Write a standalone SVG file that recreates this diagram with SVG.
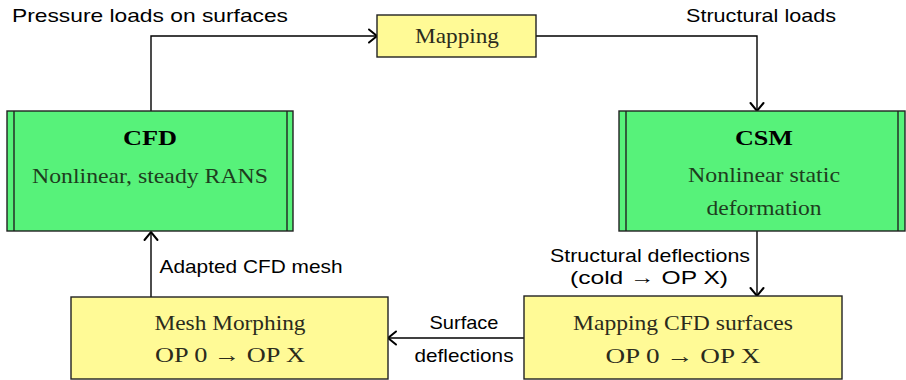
<svg xmlns="http://www.w3.org/2000/svg" width="906" height="380" viewBox="0 0 906 380">
  <defs>
    <marker id="arr" viewBox="-10 -8 12 16" markerWidth="12" markerHeight="16" refX="0" refY="0" orient="auto" markerUnits="userSpaceOnUse">
      <path d="M-8,-6.5 L0,0 L-8,6.5" fill="none" stroke="#000" stroke-width="2" stroke-linecap="round" stroke-linejoin="miter"/>
    </marker>
  </defs>
  <style>
    .green { fill: #57f27a; stroke: #222; stroke-width: 1.4; }
    .yellow { fill: #fffa96; stroke: #222; stroke-width: 1.4; }
    .edge { fill: none; stroke: #000; stroke-width: 1.4; }
    .title { font-family: "Liberation Serif", "DejaVu Serif", serif; font-weight: bold; font-size: 22px; fill: #000; text-anchor: middle; }
    .gtext { font-family: "Liberation Serif", "DejaVu Serif", serif; font-size: 22px; fill: #1e3d1e; text-anchor: middle; }
    .ytext { font-family: "Liberation Serif", "DejaVu Serif", serif; font-size: 22px; fill: #2b2b1c; text-anchor: middle; }
    .label { font-family: "Liberation Sans", "DejaVu Sans", sans-serif; font-size: 19px; fill: #000; text-anchor: middle; }
  </style>

  <g id="connectors">
    <path class="edge" d="M151,111 V36 H377" marker-end="url(#arr)"/>
    <path class="edge" d="M536,36 H757 V111" marker-end="url(#arr)"/>
    <path class="edge" d="M757,231 V296" marker-end="url(#arr)"/>
    <path class="edge" d="M524,338 H388" marker-end="url(#arr)"/>
    <path class="edge" d="M151,297 V232" marker-end="url(#arr)"/>
    <text class="label" x="150" y="22" textLength="276" lengthAdjust="spacingAndGlyphs">Pressure loads on surfaces</text>
    <text class="label" x="761" y="22" textLength="150" lengthAdjust="spacingAndGlyphs">Structural loads</text>
    <text class="label" x="650" y="262" textLength="200" lengthAdjust="spacingAndGlyphs">Structural deflections</text>
    <text class="label" x="649" y="284" textLength="158" lengthAdjust="spacingAndGlyphs">(cold → OP X)</text>
    <text class="label" x="464" y="329" textLength="69" lengthAdjust="spacingAndGlyphs">Surface</text>
    <text class="label" x="464" y="362" textLength="99" lengthAdjust="spacingAndGlyphs">deflections</text>
    <text class="label" x="251" y="273" textLength="183" lengthAdjust="spacingAndGlyphs">Adapted CFD mesh</text>
  </g>

  <g id="mapping">
    <rect class="yellow" x="377" y="15" width="159" height="42"/>
    <text class="ytext" x="457" y="43" textLength="84" lengthAdjust="spacingAndGlyphs">Mapping</text>
  </g>

  <g id="cfd">
    <rect class="green" x="7" y="111" width="286" height="120"/>
    <line class="green" x1="14" y1="111" x2="14" y2="231"/>
    <line class="green" x1="287" y1="111" x2="287" y2="231"/>
    <text class="title" x="150" y="145" textLength="54" lengthAdjust="spacingAndGlyphs">CFD</text>
    <text class="gtext" x="150" y="183" textLength="236" lengthAdjust="spacingAndGlyphs">Nonlinear, steady RANS</text>
  </g>

  <g id="csm">
    <rect class="green" x="619" y="111" width="286" height="120"/>
    <line class="green" x1="626" y1="111" x2="626" y2="231"/>
    <line class="green" x1="898" y1="111" x2="898" y2="231"/>
    <text class="title" x="764" y="145" textLength="58" lengthAdjust="spacingAndGlyphs">CSM</text>
    <text class="gtext" x="764" y="182" textLength="152" lengthAdjust="spacingAndGlyphs">Nonlinear static</text>
    <text class="gtext" x="764" y="215" textLength="115" lengthAdjust="spacingAndGlyphs">deformation</text>
  </g>

  <g id="mesh-morphing">
    <rect class="yellow" x="71" y="297" width="317" height="82"/>
    <text class="ytext" x="230" y="330" textLength="151" lengthAdjust="spacingAndGlyphs">Mesh Morphing</text>
    <text class="ytext" x="230" y="362" textLength="150" lengthAdjust="spacingAndGlyphs">OP 0 → OP X</text>
  </g>

  <g id="mapping-cfd-surfaces">
    <rect class="yellow" x="524" y="296" width="318" height="83"/>
    <text class="ytext" x="683" y="330" textLength="220" lengthAdjust="spacingAndGlyphs">Mapping CFD surfaces</text>
    <text class="ytext" x="683" y="363" textLength="155" lengthAdjust="spacingAndGlyphs">OP 0 →  OP X</text>
  </g>
</svg>
